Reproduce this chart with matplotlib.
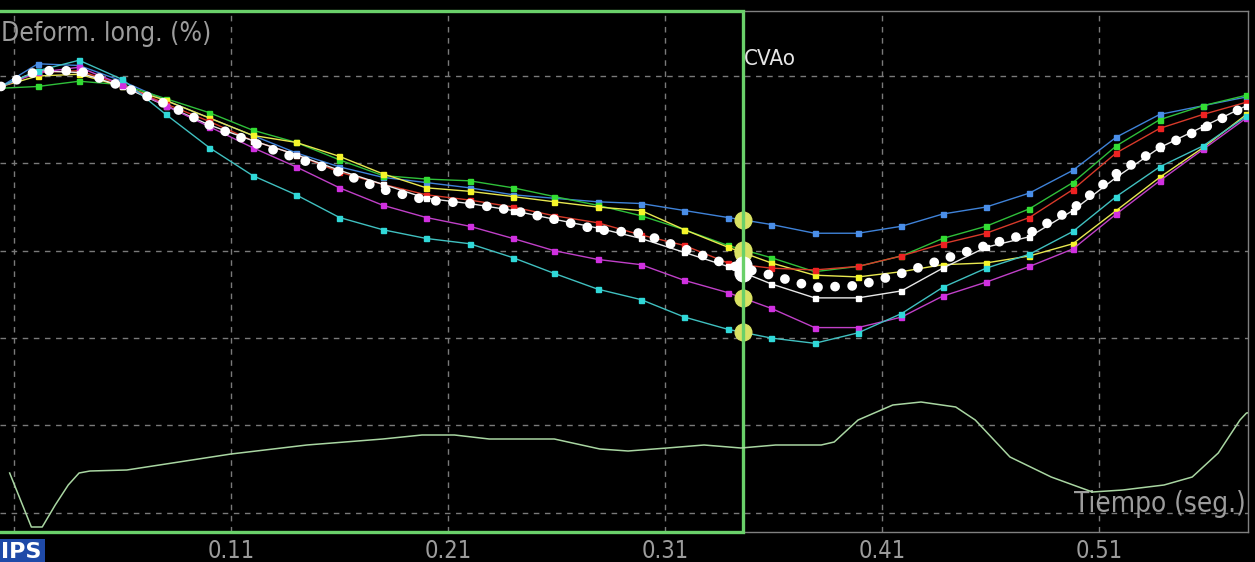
import numpy as np
import matplotlib
matplotlib.use("Agg")
import matplotlib.pyplot as plt
from matplotlib.patches import Rectangle

# Frame times (s) of the speckle-tracking samples
t_frames = [0.004, 0.021, 0.040, 0.060, 0.080, 0.100, 0.120, 0.140, 0.160, 0.180,
            0.200, 0.220, 0.240, 0.259, 0.279, 0.299, 0.319, 0.339, 0.359, 0.379,
            0.399, 0.419, 0.438, 0.458, 0.478, 0.498, 0.518, 0.538, 0.558, 0.578]

# Segmental longitudinal strain (%)
strain_blue = [-0.6, 0.7, 0.6, -0.3, -1.4, -2.4, -3.4, -4.4, -5.2, -5.8, -6.1, -6.4, -6.8, -7.0, -7.2,
               -7.3, -7.7, -8.1, -8.5, -9.0, -9.0, -8.6, -7.9, -7.5, -6.7, -5.4, -3.5, -2.2, -1.7, -1.2]
strain_green = [-0.7, -0.6, -0.3, -0.5, -1.3, -2.1, -3.1, -3.8, -4.8, -5.7, -5.9, -6.0, -6.4, -6.9, -7.4,
                -8.0, -8.8, -9.7, -10.4, -11.2, -10.9, -10.3, -9.3, -8.6, -7.6, -6.1, -4.0, -2.5, -1.7, -1.1]
strain_yellow = [-0.6, 0.0, 0.1, -0.6, -1.4, -2.4, -3.4, -3.8, -4.6, -5.6, -6.4, -6.6, -6.9, -7.2, -7.5,
                 -7.7, -8.8, -9.8, -10.7, -11.4, -11.5, -11.2, -10.8, -10.7, -10.3, -9.6, -7.7, -5.8, -4.1, -2.2]
strain_red = [-0.6, 0.2, 0.3, -0.5, -1.6, -2.6, -3.7, -4.5, -5.5, -6.2, -6.8, -7.1, -7.5, -8.0, -8.4,
              -9.1, -9.7, -10.7, -11.0, -11.1, -10.9, -10.3, -9.6, -9.0, -8.1, -6.5, -4.4, -3.0, -2.2, -1.5]
strain_white = [-0.6, 0.3, 0.2, -0.6, -1.7, -2.8, -3.7, -4.5, -5.4, -6.2, -7.0, -7.3, -7.7, -8.2, -8.7,
                -9.3, -10.1, -10.9, -11.9, -12.7, -12.7, -12.3, -11.0, -9.8, -9.2, -7.7, -5.8, -4.1, -2.9, -1.7]
strain_magenta = [-0.6, 0.2, 0.5, -0.5, -1.7, -2.9, -4.1, -5.2, -6.4, -7.4, -8.1, -8.6, -9.3, -10.0, -10.5,
                  -10.8, -11.7, -12.4, -13.3, -14.4, -14.4, -13.8, -12.6, -11.8, -10.9, -9.9, -7.9, -6.0, -4.2, -2.4]
strain_cyan = [-0.6, 0.3, 0.9, -0.2, -2.2, -4.1, -5.7, -6.8, -8.1, -8.8, -9.3, -9.6, -10.4, -11.3, -12.2,
               -12.8, -13.8, -14.5, -15.0, -15.3, -14.7, -13.6, -12.1, -11.0, -10.2, -8.9, -6.9, -5.2, -4.0, -2.3]
# Global (average) strain
strain_avg = [-0.6, 0.3, 0.3, -0.6, -1.6, -2.8, -3.8, -4.7, -5.5, -6.5, -7.1, -7.3, -7.7, -8.2, -8.8,
              -9.0, -9.9, -10.8, -11.4, -12.1, -12.0, -11.3, -10.5, -9.7, -9.0, -7.6, -5.6, -4.1, -3.0, -1.7]

# Aortic valve closure
t_avc = 0.346
avc_label = "CVAo"

# ECG trace
ecg_t = [0.008, 0.013, 0.018, 0.023, 0.029, 0.035, 0.040, 0.045, 0.062, 0.086, 0.110, 0.145,
         0.180, 0.198, 0.213, 0.229, 0.259, 0.280, 0.293, 0.311, 0.328, 0.345, 0.361, 0.382,
         0.388, 0.399, 0.415, 0.428, 0.444, 0.453, 0.469, 0.488, 0.507, 0.521, 0.540, 0.553,
         0.565, 0.575, 0.578, 0.582]
ecg_mv = [-0.46, -1.0, -1.54, -1.54, -1.1, -0.7, -0.46, -0.42, -0.4, -0.24, -0.08, 0.1,
          0.22, 0.3, 0.3, 0.22, 0.22, 0.02, -0.02, 0.04, 0.1, 0.04, 0.1, 0.1,
          0.16, 0.6, 0.9, 0.96, 0.86, 0.6, -0.14, -0.54, -0.84, -0.8, -0.7, -0.54,
          -0.06, 0.6, 0.74, 0.76]

x_ticks = [0.01, 0.11, 0.21, 0.31, 0.41, 0.51]
x_tick_labels = ["", "0.11", "0.21", "0.31", "0.41", "0.51"]
y_grid = [0, -5, -10, -15, -20, -25]

segments = [
    (strain_blue, "#3f82d8", "#4a8ee8"),
    (strain_green, "#2fbf3a", "#33dd33"),
    (strain_yellow, "#e8e850", "#f5f52a"),
    (strain_red, "#d83a2a", "#ee2222"),
    (strain_white, "#e8e8e8", "#ffffff"),
    (strain_magenta, "#c040c8", "#d030e0"),
    (strain_cyan, "#40c0c0", "#30d8d8"),
]

TXT = dict(family="DejaVu Sans", fontstretch="condensed")
GREY_TXT = "#9c9c9c"

fig = plt.figure(figsize=(12.55, 5.62), dpi=100, facecolor="black")
ax = fig.add_axes([0.0, 30 / 562, 1248 / 1255, 521 / 562])
ax.set_facecolor("black")
ax.set_xlim(0.00355, 0.5787)
ax.set_ylim(-26.1, 3.72)

# grid
for xv in x_ticks:
    ax.axvline(xv, color="#7a7a7a", lw=1.0, ls=(0, (4, 4)), zorder=1)
for yv in y_grid:
    ax.axhline(yv, color="#7a7a7a", lw=1.0, ls=(0, (4, 4)), zorder=1)

# ECG on its own scale
ax2 = ax.twinx()
ax2.set_ylim(-1.64, 8.78)
ax2.plot(ecg_t, ecg_mv, color="#a9d6a2", lw=1.1, zorder=2)
ax2.set_yticks([])
for s in ax2.spines.values():
    s.set_visible(False)
ax2.patch.set_visible(False)

# segmental curves
for vals, lc, mc in segments:
    ax.plot(t_frames, vals, color=lc, lw=1.0, marker="s", markersize=3.6,
            markerfacecolor=mc, markeredgecolor=mc, markevery=list(range(1, len(t_frames))),
            zorder=3)

# average curve as a line of round dots
avg_line, = ax.plot(t_frames, strain_avg, color="white", lw=7.0,
                    ls=(0, (0.01, 1.75)), zorder=4)
avg_line.set_dash_capstyle("round")

# values at aortic valve closure
for vals in (strain_blue, strain_green, strain_yellow, strain_magenta, strain_cyan):
    ax.plot([t_avc], [np.interp(t_avc, t_frames, vals)], "o", ms=12,
            color="#d9e264", zorder=5)
for vals in (strain_red, strain_white, strain_avg):
    ax.plot([t_avc], [np.interp(t_avc, t_frames, vals)], "o", ms=12,
            color="white", zorder=5)

# ejection window box
ax.add_patch(Rectangle((0.0, -26.1), t_avc, 26.1 + 3.72, fill=False,
                       edgecolor="#6ad06a", lw=2.4, zorder=6, clip_on=False))
ax.text(t_avc + 0.0005, 1.0, avc_label, color="#e6e6e6", fontsize=16,
        ha="left", va="center", zorder=7, **TXT)

ax.text(0.0042, 2.4, "Deform. long. (%)", color=GREY_TXT, fontsize=19,
        ha="left", va="center", zorder=7, **TXT)
ax.text(0.5775, -24.5, "Tiempo (seg.)", color=GREY_TXT, fontsize=20,
        ha="right", va="center", zorder=7, **TXT)

ax.set_xticks(x_ticks)
ax.set_xticklabels(x_tick_labels, **TXT)
ax.set_yticks([])
ax.tick_params(axis="x", length=0, colors=GREY_TXT, labelsize=17, pad=5)
for side in ("top", "right", "bottom"):
    ax.spines[side].set_color("#808080")
    ax.spines[side].set_linewidth(1.0)
ax.spines["left"].set_visible(False)

fig.text(0.001, 0.0, "IPS", color="white", fontsize=16, fontweight="bold",
         ha="left", va="bottom",
         bbox=dict(boxstyle="square,pad=0.15", facecolor="#1f4aa8", edgecolor="none"))

fig.savefig("out.png", dpi=100, facecolor="black")
